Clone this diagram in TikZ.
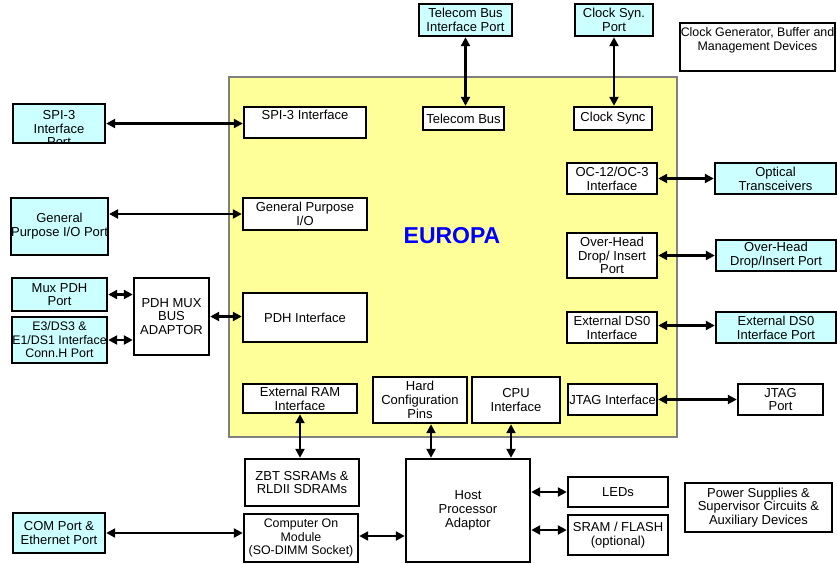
\documentclass[tikz,border=0pt]{standalone}
\usepackage{fontspec}
\setmainfont{Liberation Sans}
\usetikzlibrary{arrows.meta}
\definecolor{portcyan}{HTML}{CCFFFF}
\definecolor{euroyellow}{HTML}{FFFF99}
\definecolor{euroblue}{HTML}{0000FF}
\definecolor{blockedge}{HTML}{808080}
\begin{document}
\begin{tikzpicture}[x=1pt,y=-1pt,
  txt/.style={font=\fontsize{13}{13.8}\selectfont, align=center},
  small/.style={font=\fontsize{12.4}{13.5}\selectfont},
  box/.style={txt, draw=black, line width=2.4pt, fill=white, inner sep=0pt},
  port/.style={box, fill=portcyan},
  toplabel/.style={txt, anchor=north, inner sep=0pt},
  conn/.style={line width=2.2pt, {Triangle[length=9pt,width=9pt]}-{Triangle[length=9pt,width=9pt]}},
  ]
\useasboundingbox (0,0) rectangle (837,563);

% EUROPA block
\node[draw=blockedge, line width=1.2pt, fill=euroyellow, inner sep=0pt,
      minimum width=448pt, minimum height=360pt] (europa) at (453,257) {};
\node[font=\fontsize{23}{26}\selectfont\bfseries, text=euroblue] (eulabel) at (452,236) {EUROPA};

% top ports
\node[port, minimum width=93pt, minimum height=32pt] (tbport) at (465.5,20) {Telecom Bus\\Interface Port};
\node[port, minimum width=78pt, minimum height=32pt] (csport) at (614,20) {Clock Syn.\\Port};
\node[box, minimum width=155pt, minimum height=48pt,
      label={[toplabel, small, yshift=-6pt]north:Clock Generator, Buffer and\\Management Devices}] (clkgen) at (757.5,47) {};

% inner blocks
\node[box, minimum width=122pt, minimum height=31pt,
      label={[toplabel, yshift=-4pt]north:SPI-3 Interface}] (spiif) at (305,122.5) {};
\node[box, minimum width=81pt, minimum height=23pt] (tb) at (463.5,118.5) {Telecom Bus};
\node[box, minimum width=78pt, minimum height=23pt] (cs) at (613,118.5) {Clock Sync};
\node[box, minimum width=124pt, minimum height=32pt] (gpio) at (305,214) {General Purpose\\I/O};
\node[box, minimum width=124pt, minimum height=49pt] (pdhif) at (305,317.5) {PDH Interface};
\node[box, minimum width=90pt, minimum height=31pt] (optif) at (612,178.5) {OC-12/OC-3\\Interface};
\node[box, minimum width=90pt, minimum height=45pt] (ohif) at (612,255.5) {Over-Head\\Drop/ Insert\\Port};
\node[box, minimum width=90pt, minimum height=31pt] (dsif) at (612,327.5) {External DS0\\Interface};
\node[box, minimum width=114pt, minimum height=29pt] (ramif) at (300,398.5) {External RAM\\Interface};
\node[box, minimum width=94pt, minimum height=46pt] (hcp) at (420,400) {Hard\\Configuration\\Pins};
\node[box, minimum width=88pt, minimum height=46pt] (cpu) at (516,400) {CPU\\Interface};
\node[box, minimum width=89pt, minimum height=31pt] (jtag) at (612.5,399.5) {JTAG Interface};

% left ports
\node[port, minimum width=92pt, minimum height=39pt,
      path picture={\node[toplabel] (spitext) at ([yshift=-4pt]path picture bounding box.north) {SPI-3\\Interface\\Port};}] (spiport) at (59,123.5) {};
\node[port, minimum width=95pt, minimum height=57pt] (gpport) at (59.5,226.5) {General\\Purpose I/O Port};
\node[port, minimum width=95pt, minimum height=33pt] (muxport) at (59.5,294.5) {Mux PDH\\Port};
\node[port, small, minimum width=95pt, minimum height=46pt] (e3port) at (59.5,340) {E3/DS3 \&\\E1/DS1 Interface\\Conn.H Port};
\node[box, minimum width=75pt, minimum height=77pt] (pdhmux) at (171.5,316.5) {PDH MUX\\BUS\\ADAPTOR};
\node[port, minimum width=92pt, minimum height=40pt] (comport) at (59,533) {COM Port \&\\Ethernet Port};

% right ports
\node[port, minimum width=121pt, minimum height=31pt] (optport) at (775.5,178.5) {Optical\\Transceivers};
\node[port, minimum width=120pt, minimum height=31pt] (ohport) at (776,255.5) {Over-Head\\Drop/Insert Port};
\node[port, minimum width=120pt, minimum height=31pt] (dsport) at (776,327.5) {External DS0\\Interface Port};
\node[box, minimum width=85pt, minimum height=31pt] (jtagport) at (780.5,399.5) {JTAG\\Port};

% bottom blocks
\node[box, minimum width=114pt, minimum height=47pt] (zbt) at (302,482.5) {ZBT SSRAMs \&\\RLDII SDRAMs};
\node[box, small, minimum width=114pt, minimum height=48pt] (com) at (301,538) {Computer On\\Module\\(SO-DIMM Socket)};
\node[box, minimum width=124pt, minimum height=103pt] (host) at (468,510.5) {Host\\Processor\\Adaptor};
\node[box, minimum width=100pt, minimum height=30pt] (leds) at (618,492) {LEDs};
\node[box, minimum width=100pt, minimum height=40pt] (sram) at (618,535) {SRAM / FLASH\\(optional)};
\node[box, minimum width=147pt, minimum height=49pt] (power) at (758.5,507.5) {Power Supplies \&\\Supervisor Circuits \&\\Auxiliary Devices};

% connectors
\draw[conn] (spiport.east) -- (spiport.east -| spiif.west);
\draw[conn] (gpio.west) -- (gpio.west -| gpport.east);
\draw[conn] (muxport.east) -- (muxport.east -| pdhmux.west);
\draw[conn] (e3port.east) -- (e3port.east -| pdhmux.west);
\draw[conn] (pdhmux.east) -- (pdhmux.east -| pdhif.west);
\draw[conn] (tbport.south) -- (tbport.south |- tb.north);
\draw[conn] (csport.south) -- (csport.south |- cs.north);
\draw[conn] (optif.east) -- (optif.east -| optport.west);
\draw[conn] (ohif.east) -- (ohif.east -| ohport.west);
\draw[conn] ([yshift=2pt]dsif.east) -- ([yshift=2pt]dsif.east -| dsport.west);
\draw[conn] (jtag.east) -- (jtag.east -| jtagport.west);
\draw[conn] (ramif.south) -- (ramif.south |- zbt.north);
\draw[conn] ([xshift=11pt]hcp.south) -- ([xshift=11pt]hcp.south |- host.north);
\draw[conn] ([xshift=-5pt]cpu.south) -- ([xshift=-5pt]cpu.south |- host.north);
\draw[conn] (comport.east) -- (comport.east -| com.west);
\draw[conn] ([yshift=2pt]com.east) -- ([yshift=2pt]com.east -| host.west);
\draw[conn] (leds.west) -- (leds.west -| host.east);
\draw[conn] ([yshift=5pt]sram.west) -- ([yshift=5pt]sram.west -| host.east);
\end{tikzpicture}
\end{document}
